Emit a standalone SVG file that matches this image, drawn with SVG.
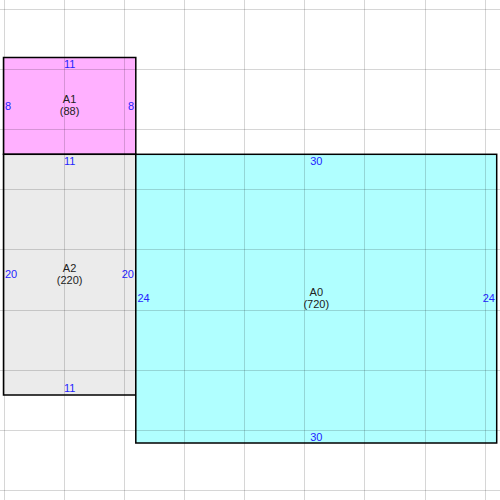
<svg xmlns="http://www.w3.org/2000/svg" width="500" height="500" viewBox="0 0 500 500">
<style>
.box{stroke:#000;stroke-width:1.5}
.dim{font-family:"Liberation Sans",Arial,sans-serif;font-size:11px;fill:#2424ff}
.nm{font-family:"Liberation Sans",Arial,sans-serif;font-size:11px;fill:#222;text-anchor:middle}
.grid line{stroke:#000;stroke-width:1;stroke-opacity:0.16}
.m{text-anchor:middle}
.e{text-anchor:end}
</style>
<rect width="500" height="500" fill="#fff"/>
<g id="A1">
<rect class="box" x="3.5" y="57.5" width="132.3" height="96.8" fill="#ffb0ff"/>
<text class="nm" x="69.6" y="103">A1</text>
<text class="nm" x="69.6" y="115">(88)</text>
<text class="dim m" x="69.6" y="68">11</text>
<text class="dim" x="5" y="110">8</text>
<text class="dim e" x="134" y="110">8</text>
</g>
<g id="A2">
<rect class="box" x="3.5" y="154.3" width="132.3" height="240.7" fill="#ebebeb"/>
<text class="nm" x="69.6" y="272">A2</text>
<text class="nm" x="69.6" y="284">(220)</text>
<text class="dim m" x="69.6" y="165">11</text>
<text class="dim m" x="69.6" y="392">11</text>
<text class="dim" x="5" y="278">20</text>
<text class="dim e" x="134" y="278">20</text>
</g>
<g id="A0">
<rect class="box" x="135.8" y="154.3" width="360.9" height="288.7" fill="#b0ffff"/>
<text class="nm" x="316.3" y="296">A0</text>
<text class="nm" x="316.3" y="308">(720)</text>
<text class="dim m" x="316.3" y="165">30</text>
<text class="dim m" x="316.3" y="441">30</text>
<text class="dim" x="137.5" y="302">24</text>
<text class="dim e" x="495" y="302">24</text>
</g>
<g class="grid" id="grid">
<line x1="4.5" y1="0" x2="4.5" y2="500"/>
<line x1="64.5" y1="0" x2="64.5" y2="500"/>
<line x1="124.5" y1="0" x2="124.5" y2="500"/>
<line x1="184.5" y1="0" x2="184.5" y2="500"/>
<line x1="244.5" y1="0" x2="244.5" y2="500"/>
<line x1="304.5" y1="0" x2="304.5" y2="500"/>
<line x1="364.5" y1="0" x2="364.5" y2="500"/>
<line x1="425.5" y1="0" x2="425.5" y2="500"/>
<line x1="485.5" y1="0" x2="485.5" y2="500"/>
<line x1="0" y1="9.5" x2="500" y2="9.5"/>
<line x1="0" y1="69.5" x2="500" y2="69.5"/>
<line x1="0" y1="129.5" x2="500" y2="129.5"/>
<line x1="0" y1="189.5" x2="500" y2="189.5"/>
<line x1="0" y1="249.5" x2="500" y2="249.5"/>
<line x1="0" y1="310.5" x2="500" y2="310.5"/>
<line x1="0" y1="370.5" x2="500" y2="370.5"/>
<line x1="0" y1="430.5" x2="500" y2="430.5"/>
<line x1="0" y1="490.5" x2="500" y2="490.5"/>
</g>
</svg>
